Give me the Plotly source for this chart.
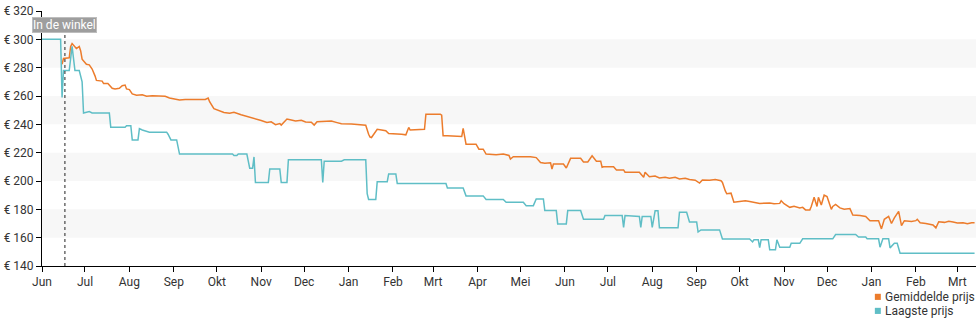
import pandas as pd
import plotly.graph_objects as go

# Prijshistorie: dagen sinds 1 juni 2022 met de bijbehorende prijs (EUR)
startdatum = "2022-06-01"
in_de_winkel = "2022-06-17"

laagste_dagen = [0, 13, 14, 15, 19, 21, 23, 26, 28, 29, 33, 35, 47, 48, 58, 59, 62, 63, 67, 68, 70, 75,
                 87, 88, 90, 94, 96, 133, 134, 136, 137, 143, 144, 145, 147, 148, 149, 158, 159, 166,
                 167, 171, 172, 195, 196, 197, 209, 211, 226, 227, 228, 233, 234, 241, 242, 247, 248,
                 282, 283, 294, 296, 308, 310, 322, 324, 336, 338, 343, 345, 350, 351, 359, 360, 366,
                 367, 376, 378, 392, 393, 405, 406, 407, 417, 418, 419, 425, 426, 427, 428, 430, 431,
                 444, 445, 450, 452, 457, 458, 460, 473, 475, 494, 496, 497, 500, 501, 502, 507, 508,
                 512, 513, 515, 522, 523, 529, 531, 552, 554, 568, 570, 575, 576, 584, 585, 587, 591,
                 592, 595, 597, 599, 651]
laagste_prijs = [300, 300, 259, 278, 278, 295, 278, 278, 270, 248, 249, 248, 248, 238, 238, 239, 239,
                 229, 229, 237, 236, 234.5, 234.5, 233, 229, 229, 219, 219, 218, 218, 219, 219, 214,
                 209, 209, 217, 199, 199, 208.5, 208.5, 199, 199, 215, 215, 199, 214, 214, 215, 215,
                 191, 187, 187, 199.5, 199.5, 205, 205, 198.3, 198.3, 195, 195, 189.5, 189.5, 187, 187,
                 185, 185, 182.6, 182.6, 187.3, 187.3, 179.1, 179.1, 169.7, 169.7, 179.1, 179.1, 173,
                 173, 175.6, 175.6, 167.3, 175.6, 175, 167.3, 175, 175, 167.3, 175, 179, 179, 167, 167,
                 178, 178, 171, 171, 164, 165.5, 165.5, 159, 159, 157, 158.5, 158.5, 153, 158.5, 158.5,
                 151.4, 151.4, 158.5, 153.3, 153.3, 156, 156, 159.2, 159.2, 162.2, 162.2, 160.5, 160.5,
                 159.2, 159.2, 153.3, 159.2, 159.2, 152.8, 156, 156, 149, 149]

gemiddeld_dagen = [14, 15, 19, 20, 21, 23, 24, 26, 27, 28, 31, 33, 35, 37, 38, 42, 43, 46, 49, 51, 54,
                   56, 58, 59, 61, 63, 66, 70, 73, 77, 80, 84, 86, 89, 93, 96, 100, 104, 110, 114, 116,
                   117, 120, 123, 127, 131, 134, 139, 143, 146, 150, 153, 157, 160, 163, 166, 167, 171,
                   174, 177, 181, 184, 188, 190, 192, 195, 198, 202, 206, 209, 216, 223, 226, 228, 229,
                   230, 232, 234, 237, 240, 242, 247, 251, 254, 256, 257, 264, 267, 268, 278, 279, 280,
                   283, 289, 293, 294, 296, 303, 305, 308, 310, 317, 320, 322, 326, 327, 329, 341, 345,
                   348, 351, 355, 356, 357, 364, 366, 369, 376, 378, 381, 384, 387, 390, 391, 392, 399,
                   401, 406, 407, 417, 420, 421, 424, 428, 431, 435, 438, 442, 445, 449, 452, 456, 459,
                   461, 466, 470, 474, 475, 477, 478, 481, 483, 487, 491, 494, 498, 501, 508, 511, 515,
                   516, 518, 522, 525, 529, 531, 533, 536, 537, 539, 541, 542, 544, 546, 548, 549, 551,
                   552, 554, 557, 560, 564, 566, 571, 575, 578, 581, 584, 586, 588, 591, 593, 595, 598,
                   600, 602, 607, 610, 611, 613, 617, 620, 622, 624, 626, 630, 633, 636, 639, 643, 646,
                   649, 651]
gemiddelde_prijs = [282.4, 286.5, 287, 295, 297, 295, 293.5, 294.9, 291.8, 286, 282.4, 282, 279, 274.2,
                    271, 270.5, 268.8, 268.8, 265.5, 265, 265.5, 267.2, 267.7, 265, 264.5, 261.5, 260.5,
                    260.8, 259.8, 260.2, 260, 259.5, 259.8, 258.6, 257.6, 257.2, 257.5, 257.4, 257.2,
                    257.5, 258.5, 256, 251, 249.6, 248.3, 247.9, 248.5, 246.8, 245.6, 245.2, 243.5,
                    242.7, 241.3, 241.8, 239.8, 240.6, 239.5, 243.7, 243, 242.3, 242.8, 241.6, 241.5,
                    239.5, 241.8, 242, 241.8, 242.3, 241.2, 240.4, 240.2, 240, 239.4, 233, 231, 230.7,
                    234, 236.5, 236, 235.5, 233.5, 233.4, 233, 232.6, 237.8, 236, 236.2, 236.5, 247.2,
                    247.2, 246.5, 232, 232, 231.9, 231.4, 237.1, 226, 226, 222.5, 222.5, 219, 218.5, 219,
                    219, 218, 215.5, 217.1, 217.1, 216.5, 213, 212.5, 212.9, 208.5, 212, 212, 209.2, 216,
                    216.1, 213.5, 213.5, 217.8, 214, 214, 209.7, 210, 210, 207.8, 207.8, 206.2, 206.2,
                    202.6, 206.2, 203, 203.5, 202.2, 202.6, 202, 202.6, 201.5, 202, 201, 200.6, 198.5,
                    200.7, 200.5, 201, 200.2, 199, 193, 191, 191.4, 185, 185.5, 186, 185.6, 185, 184.2,
                    184.5, 184, 184.2, 186.1, 184, 181.4, 182.2, 181, 181.4, 179.6, 179.6, 182, 188.5,
                    182, 188.5, 183, 190, 189, 186, 180, 182, 183.5, 181, 180, 180.5, 176, 175.6, 175,
                    172, 172.2, 172, 166.2, 173, 175, 170, 174, 178.6, 168.5, 172, 171.5, 172, 173,
                    170.5, 170, 169.5, 169, 166.9, 171.2, 170.8, 171.5, 171, 170.3, 170.6, 169.8, 170.6,
                    170.6]

prijs_ticks = [140, 160, 180, 200, 220, 240, 260, 280, 300, 320]
prijs_labels = [f"€ {p}" for p in prijs_ticks]

maand_ticks = pd.date_range("2022-06-01", "2024-03-01", freq="MS")
maand_namen = ["Jun", "Jul", "Aug", "Sep", "Okt", "Nov", "Dec", "Jan", "Feb", "Mrt", "Apr", "Mei"]
maand_labels = [maand_namen[(d.month - 6) % 12] for d in maand_ticks]

reeksen = ["Gemiddelde prijs", "Laagste prijs"]
ORANJE = "#ec7c2c"
TEAL = "#5fbec6"

start = pd.Timestamp(startdatum)
laagste_x = start + pd.to_timedelta(laagste_dagen, unit="D")
gemiddeld_x = start + pd.to_timedelta(gemiddeld_dagen, unit="D")

fig = go.Figure()
fig.add_trace(go.Scatter(x=gemiddeld_x, y=gemiddelde_prijs, mode="lines", name=reeksen[0],
                         line=dict(color=ORANJE, width=1.5), showlegend=False))
fig.add_trace(go.Scatter(x=laagste_x, y=laagste_prijs, mode="lines", name=reeksen[1],
                         line=dict(color=TEAL, width=1.5), showlegend=False))

# Afwisselende achtergrondbanden
for y0 in [280, 240, 200, 160]:
    fig.add_shape(type="rect", xref="paper", yref="y", x0=0, x1=1, y0=y0, y1=y0 + 20,
                  fillcolor="#f7f7f7", line=dict(width=0), layer="below")

# Moment dat het product in de winkel lag
fig.add_shape(type="line", xref="x", yref="paper", x0=in_de_winkel, x1=in_de_winkel,
              y0=0, y1=0.97, line=dict(color="#222", width=1, dash="dot"))
fig.add_annotation(x=in_de_winkel, xref="x", y=0.947, yref="paper", text="In de winkel",
                   showarrow=False, font=dict(color="white", size=12, family="Roboto"),
                   bgcolor="#9e9e9e", bordercolor="#bdbdbd", borderwidth=1, borderpad=0,
                   yanchor="middle")

# Legenda rechtsonder: gekleurd vierkantje met tekst
for i, (naam, kleur) in enumerate(zip(reeksen, [ORANJE, TEAL])):
    ymid = -0.121 - i * 0.055
    fig.add_shape(type="rect", xref="paper", yref="paper", x0=0.8917, x1=0.8981,
                  y0=ymid - 0.012, y1=ymid + 0.012, fillcolor=kleur, line=dict(width=0))
    fig.add_annotation(x=0.9005, xref="paper", y=ymid, yref="paper", text=naam,
                       showarrow=False, xanchor="left", yanchor="middle",
                       font=dict(size=12, color="#333"))

fig.update_layout(
    width=980, height=325,
    margin=dict(l=40, r=4, t=10, b=59),
    paper_bgcolor="white", plot_bgcolor="white",
    font=dict(family="Roboto", size=12, color="#333"),
    showlegend=False,
    xaxis=dict(range=[start, start + pd.Timedelta(days=652)], tickvals=maand_ticks,
               ticktext=maand_labels, showgrid=False, zeroline=False, showline=True,
               linecolor="#000", linewidth=1, ticks="outside", ticklen=5, tickcolor="#000",
               tickfont=dict(size=12, color="#333")),
    yaxis=dict(range=[140, 320], tickvals=prijs_ticks, ticktext=prijs_labels,
               showgrid=False, zeroline=False, showline=True, linecolor="#000", linewidth=1,
               ticks="outside", ticklen=5, tickcolor="#000", tickfont=dict(size=12, color="#333")),
)

fig.write_html("out.html")
